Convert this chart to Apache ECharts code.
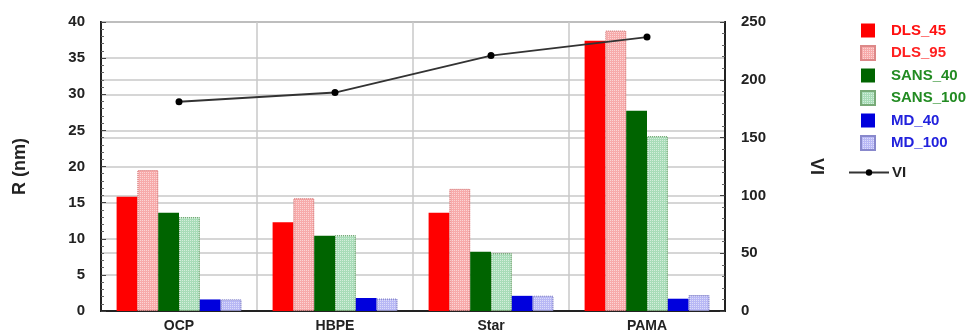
<!DOCTYPE html>
<html><head><meta charset="utf-8">
<script src="https://cdn.jsdelivr.net/npm/echarts@6/dist/echarts.min.js"></script>
<style>html,body{margin:0;padding:0;background:#fff}#c{width:968px;height:333px}</style>
</head><body><div id="c"></div>
<script>
const categories = ['OCP', 'HBPE', 'Star', 'PAMA'];
const DLS_45 = [15.8, 12.3, 13.6, 37.4];
const DLS_95 = [19.5, 15.6, 16.9, 38.8];
const SANS_40 = [13.6, 10.4, 8.2, 27.7];
const SANS_100 = [13.0, 10.5, 8.0, 24.2];
const MD_40 = [1.6, 1.8, 2.1, 1.7];
const MD_100 = [1.6, 1.7, 2.1, 2.2];
const VI = [181, 189, 221, 237];
const leftTicks = [0, 5, 10, 15, 20, 25, 30, 35, 40];
const rightTicks = [0, 50, 100, 150, 200, 250];

const font = 'Liberation Sans, Arial, sans-serif';
function bar(name, data, color, pattern, borderColor) {
  const s = {
    name, type: 'bar', data, yAxisIndex: 0, barGap: '0%', barCategoryGap: '20%',
    itemStyle: { color: color }
  };
  if (pattern) {
    s.itemStyle.borderColor = borderColor;
    s.itemStyle.borderWidth = 1;
    s.itemStyle.borderType = 'dotted';
    s.itemStyle.decal = { symbol: 'rect', symbolSize: 1, color: 'rgba(255,255,255,0.5)', dashArrayX: [1, 1], dashArrayY: [1, 1], rotation: 0 };
  }
  return s;
}
const chart = echarts.init(document.getElementById('c'));
const legendColors = { DLS_45: '#ff1010', DLS_95: '#ff2020', SANS_40: '#228b22', SANS_100: '#228b22', MD_40: '#2222dd', MD_100: '#2222dd', VI: '#222' };
chart.setOption({
  animation: false,
  grid: { left: 101, right: 243, top: 22, bottom: 22, show: true, borderColor: '#222', borderWidth: 2, containLabel: false },
  legend: [{
    orient: 'vertical', left: 855, top: 18, itemWidth: 14, itemHeight: 14, itemGap: 7, icon: 'rect',
    textStyle: { fontFamily: font, fontWeight: 'bold', fontSize: 15, padding: [0, 0, 0, 11] },
    data: ['DLS_45', 'DLS_95', 'SANS_40', 'SANS_100', 'MD_40', 'MD_100'].map(n => ({ name: n, textStyle: { color: legendColors[n] } }))
  }, {
    orient: 'vertical', left: 843, top: 160, itemWidth: 40, itemHeight: 8,
    textStyle: { fontFamily: font, fontWeight: 'bold', fontSize: 15, color: '#222', padding: [0, 0, 0, -2] },
    data: ['VI']
  }],
  xAxis: {
    type: 'category', data: categories,
    axisLine: { lineStyle: { color: '#222', width: 2 } },
    axisTick: { show: false },
    axisLabel: { fontFamily: font, fontWeight: 'bold', fontSize: 14, color: '#222', margin: 8 },
    splitLine: { show: true, lineStyle: { color: '#c8c8c8', width: 1.5 } }
  },
  yAxis: [{
    type: 'value', min: 0, max: 40, interval: 5,
    name: 'R (nm)', nameLocation: 'middle', nameGap: 72, nameRotate: 90,
    nameTextStyle: { fontFamily: font, fontWeight: 'bold', fontSize: 18, color: '#222' },
    axisLine: { show: true, lineStyle: { color: '#222', width: 2 } },
    axisTick: { show: true, inside: true, length: 5, lineStyle: { color: '#444' } },
    minorTick: { show: true, splitNumber: 5, length: 3, lineStyle: { color: '#666' } },
    axisLabel: { fontFamily: font, fontWeight: 'bold', fontSize: 15, color: '#222', margin: 16,
      formatter: v => leftTicks.includes(v) ? String(v) : '' },
    splitLine: { show: true, lineStyle: { color: '#c8c8c8', width: 1.5 } }
  }, {
    type: 'value', min: 0, max: 250, interval: 50, position: 'right',
    name: 'VI', nameLocation: 'middle', nameGap: 82, nameRotate: -90,
    nameTextStyle: { fontFamily: font, fontWeight: 'bold', fontSize: 18, color: '#222' },
    axisLine: { show: true, lineStyle: { color: '#222', width: 2 } },
    axisTick: { show: true, inside: true, length: 5, lineStyle: { color: '#444' } },
    minorTick: { show: true, splitNumber: 5, length: 3, lineStyle: { color: '#666' } },
    axisLabel: { fontFamily: font, fontWeight: 'bold', fontSize: 15, color: '#222', margin: 16,
      formatter: v => rightTicks.includes(v) ? String(v) : '' },
    splitLine: { show: true, lineStyle: { color: '#c8c8c8', width: 1.5 } }
  }],
  series: [
    bar('DLS_45', DLS_45, '#ff0000', false),
    bar('DLS_95', DLS_95, '#f7aaaa', true, '#d88'),
    bar('SANS_40', SANS_40, '#006400', false),
    bar('SANS_100', SANS_100, '#a8dcb8', true, '#7a7'),
    bar('MD_40', MD_40, '#0000dd', false),
    bar('MD_100', MD_100, '#b8b8f5', true, '#88c'),
    {
      name: 'VI', type: 'line', yAxisIndex: 1, data: VI, symbol: 'circle', symbolSize: 7,
      lineStyle: { color: '#333', width: 1.8 }, itemStyle: { color: '#000' }, z: 10
    }
  ]
});
</script>
</body></html>
